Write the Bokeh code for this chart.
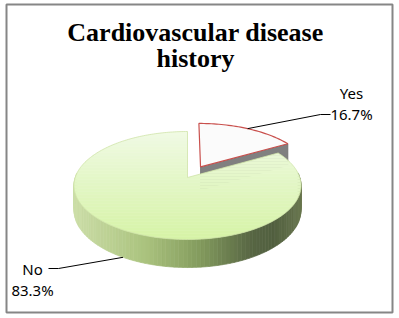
import math
from bokeh.plotting import figure
from bokeh.models import Range1d
from bokeh.core.properties import value
from bokeh.embed import file_html
from bokeh.resources import INLINE

# ---- data ----
categories = ["Yes", "No"]
percents = [16.7, 83.3]
title_lines = ["Cardiovascular disease", "history"]

# ---- style / layout (page px, y downwards) ----
VX, VY = 187, 177          # projected pie centre
A, B, K = 112.3, 52.8, 0.148   # perspective ellipse parameters
DEPTH = 23.9
EXPLODE = 0.239            # explosion of first slice (radius units)
label_pos = {"Yes": (351, 92), "No": (32, 268)}
leader_end = {"Yes": [(330, 114), (320, 114)], "No": [(48, 268), (58, 268)]}

p = figure(width=394, height=314, output_backend="svg", toolbar_location=None,
           x_range=Range1d(6, 392), y_range=Range1d(312, 4),
           min_border_left=6, min_border_top=4, min_border_right=2,
           min_border_bottom=2)
p.axis.visible = False
p.grid.visible = False
p.outline_line_color = "#868686"
p.outline_line_width = 2
p.background_fill_color = "white"


def proj(u, v):
    s = 1.0 - K * v
    return VX + A * u / s, VY + B * v / s


def circ(th):
    r = math.radians(th)
    return math.sin(r), -math.cos(r)


def depth(v):
    return DEPTH / (1.0 - K * v)


def hex_(c):
    return "#%02x%02x%02x" % tuple(int(round(x)) for x in c)


def interp(stops, t):
    t = min(max(t, 0.0), 1.0)
    for (ta, ca), (tb, cb) in zip(stops, stops[1:]):
        if t <= tb:
            f = (t - ta) / (tb - ta) if tb > ta else 0
            return hex_([ca[k] + (cb[k] - ca[k]) * f for k in range(3)])
    return hex_(stops[-1][1])


def clip_band(poly, y0, y1):
    def clip(pts, inside, inter):
        out = []
        for i in range(len(pts)):
            cur, prev = pts[i], pts[i - 1]
            if inside(cur):
                if not inside(prev):
                    out.append(inter(prev, cur))
                out.append(cur)
            elif inside(prev):
                out.append(inter(prev, cur))
        return out

    def ix(yc):
        def f(a, b):
            t = (yc - a[1]) / (b[1] - a[1])
            return (a[0] + (b[0] - a[0]) * t, yc)
        return f
    pts = clip(poly, lambda q: q[1] >= y0, ix(y0))
    if not pts:
        return []
    return clip(pts, lambda q: q[1] <= y1, ix(y1))


spans = [v * 3.6 for v in percents]
starts = [0.0, spans[0]]

# ---- exploded "Yes" slice ----
mid0 = starts[0] + spans[0] / 2
eu, ev = circ(mid0)
eu, ev = eu * EXPLODE, ev * EXPLODE


def yproj(u, v):
    return proj(u + eu, v + ev)


t0, t1 = starts[0], starts[0] + spans[0]
cu, cv = circ(t1)
Vt = yproj(0, 0)
Pt = yproj(cu, cv)
face = [Vt, Pt, (Pt[0], Pt[1] + depth(cv + ev)), (Vt[0], Vt[1] + depth(ev))]
p.patch([q[0] for q in face], [q[1] for q in face], fill_color="#808080",
        line_color="#707070", line_width=0.8)
top = [Vt] + [yproj(*circ(t0 + (t1 - t0) * i / 40)) for i in range(41)]
p.patch([q[0] for q in top], [q[1] for q in top], fill_color="#fbfbfb",
        line_color="#c9504d", line_width=1.2)

# ---- "No" slice side with horizontal gradient ----
side_stops = [(0.0, (204, 222, 168)), (0.3, (172, 196, 128)),
              (0.55, (132, 156, 94)), (0.78, (88, 102, 68)),
              (0.88, (82, 96, 64)), (1.0, (104, 118, 78))]
xs, ys, cols = [], [], []
n = 100
x_left, x_right = VX - A * 1.011, VX + A * 1.011
for i in range(n):
    ta = 85 + 190 * i / n
    tb = 85 + 190 * (i + 1) / n
    ua, va = circ(ta)
    ub, vb = circ(tb)
    Pa, Pb = proj(ua, va), proj(ub, vb)
    xs.append([Pa[0], Pb[0], Pb[0], Pa[0]])
    ys.append([Pa[1], Pb[1], Pb[1] + depth(vb), Pa[1] + depth(va)])
    cols.append(interp(side_stops, ((Pa[0] + Pb[0]) / 2 - x_left) / (x_right - x_left)))
p.patches(xs, ys, fill_color=cols, line_color=cols, line_width=0.7)

# ---- "No" slice top face with vertical gradient ----
s1, e1 = starts[1], starts[1] + spans[1]
gtop = [proj(0, 0)] + [proj(*circ(s1 + (e1 - s1) * i / 240)) for i in range(241)]
top_stops = [(0.0, (240, 250, 228)), (0.5, (226, 246, 196)), (1.0, (214, 243, 166))]
gy0 = min(q[1] for q in gtop)
gy1 = max(q[1] for q in gtop)
bx, by, bc = [], [], []
nb = 36
for i in range(nb):
    y0 = gy0 + (gy1 - gy0) * i / nb - 0.3
    y1 = gy0 + (gy1 - gy0) * (i + 1) / nb + 0.3
    poly = clip_band(gtop, y0, y1)
    if len(poly) >= 3:
        bx.append([q[0] for q in poly])
        by.append([q[1] for q in poly])
        bc.append(interp(top_stops, (i + 0.5) / nb))
p.patches(bx, by, fill_color=bc, line_color=None)
p.patch([q[0] for q in gtop], [q[1] for q in gtop], fill_color=None,
        line_color="#cfe3a8", line_width=0.8)

# ---- leader lines and labels ----
for cat, pc, s0, sp in zip(categories, percents, starts, spans):
    mu, mv = circ(s0 + sp / 2)
    if cat == "Yes":
        sx, sy = yproj(mu, mv)
    else:
        sx, sy = proj(mu, mv)
        sy += depth(mv)
    pts = leader_end[cat]
    p.line([pts[0][0], pts[1][0], sx], [pts[0][1], pts[1][1], sy],
           line_color="black", line_width=1)
    x, y = label_pos[cat]
    p.text([x, x], [y, y + 21], text=[cat, f"{pc}%"], text_align="center",
           text_baseline="alphabetic", text_font=value("Noto Sans"),
           text_font_size="15px", text_color="black")

# ---- title ----
p.text([195, 195], [32, 58], text=title_lines, text_align="center",
       text_baseline="alphabetic", text_font=value("Liberation Serif"),
       text_font_size="26px", text_font_style="bold", text_color="black")

open("out.html", "w").write(file_html(p, INLINE))
